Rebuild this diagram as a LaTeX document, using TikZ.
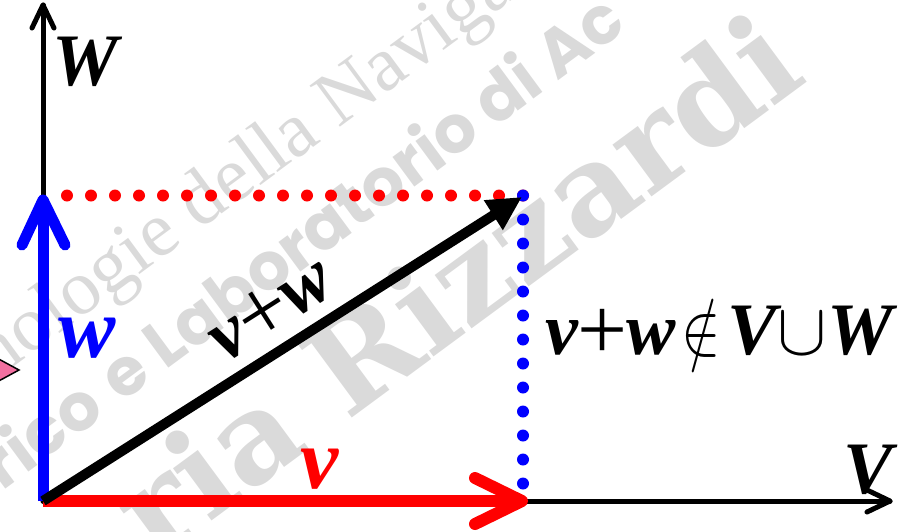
\RequirePackage{fix-cm}
\documentclass[tikz,border=0pt]{standalone}
\usepackage{graphicx}
\usepackage{fontspec}
\setmainfont{Liberation Serif}
\newfontfamily\wmsans{Poppins}
\newfontfamily\wmserif{Liberation Serif}
\newfontfamily\wmheavy{DejaVu Serif}
\newcommand{\plusglyph}{{\mdseries\upshape\raisebox{-0.07em}{\scalebox{1.2}{+}}}}
\usetikzlibrary{arrows.meta,calc}
\definecolor{wmgray}{RGB}{218,218,218}
\definecolor{pinkf}{RGB}{242,112,160}
\begin{document}
\begin{tikzpicture}[x=1pt,y=-1pt,
  lbl/.style={inner sep=0pt, font=\fontsize{74}{76}\selectfont\bfseries\itshape},
  wmtext/.style={inner sep=0pt, text=wmgray, rotate=36.4},
  axisline/.style={line width=5pt, black, line cap=round, line join=round},
  wvec/.style={line width=11pt, blue},
  vvec/.style={line width=12pt, red},
  svec/.style={line width=10pt, black, -{Triangle[length=34pt,width=33pt]}},
  barbw/.style={line width=11pt, blue, line cap=round, line join=round},
  barbv/.style={line width=12pt, red, line cap=round, line join=round},
  rdots/.style={red, line width=12pt, line cap=round, dash pattern=on 0pt off 24pt},
  bdots/.style={blue, line width=12pt, line cap=round, dash pattern=on 0pt off 24pt}]
\useasboundingbox (0,0) rectangle (903,531);
% watermark
\begin{scope}
\clip (0,0) rectangle (903,531);
\node[wmtext, anchor=base east, font=\wmserif\fontsize{78}{78}\selectfont] (wm1a) at (322,140.5) {nologie della};
\node[wmtext, anchor=base west, font=\wmserif\fontsize{78}{78}\selectfont] (wm1b) at (338,129) {Naviga};
\node[wmtext, anchor=base east, font=\wmsans\fontsize{66}{66}\selectfont\bfseries] (wm2a) at (107,414) {rico};
\node[wmtext, anchor=base west, font=\wmsans\fontsize{66}{66}\selectfont\bfseries] (wm2b) at (121.6,403.4) {e Laboratorio di Ac};
\node[wmtext, anchor=base east, font=\wmheavy\fontsize{125}{125}\selectfont\bfseries] (wm3) at (810,80) {ria Rizzardi};
\filldraw[fill=pinkf, draw=black, line width=1.5pt] (-5,357) -- (19,370) -- (-5,383) -- cycle;
\end{scope}
% coordinates
\coordinate (O) at (43,501);
\coordinate (Wtop) at (43,5);
\coordinate (Vend) at (890,501);
\coordinate (wtip) at (43,200);
\coordinate (vtip) at (522,501);
\coordinate (stip) at (522,197);
\coordinate (rstart) at (67,195.5);
\coordinate (corner) at (523,195.5);
\coordinate (bend) at (523,500);
% axes
\draw[axisline] (O) -- (Wtop);
\draw[axisline] ($(Wtop)+(-11,23)$) -- (Wtop) -- ($(Wtop)+(11,23)$);
\draw[axisline] (O) -- (Vend);
\draw[axisline] ($(Vend)+(-23,-11)$) -- (Vend) -- ($(Vend)+(-23,11)$);
% dotted
\draw[rdots] (rstart) -- (corner);
\draw[bdots] (corner) -- (bend);
% vectors
\draw[wvec] (O) -- (wtip);
\draw[barbw] ($(wtip)+(-21,45)$) -- (wtip) -- ($(wtip)+(22,45)$);
\draw[vvec] (O) -- ($(vtip)+(-5,0)$);
\draw[barbv] ($(vtip)+(-47,-23)$) -- (vtip) -- ($(vtip)+(-47,23)$);
\draw[svec] (O) -- (stip) node[pos=0.52, sloped, above=8pt, inner sep=0pt, font=\fontsize{76}{76}\selectfont\bfseries\itshape] (sl) {v\kern-1pt\plusglyph\kern-1pt w};
% labels
\node[lbl, anchor=base west] (Wl) at (52,85) {W};
\node[lbl, anchor=base west] (Vl) at (843,493) {V};
\node[lbl, anchor=base west, blue, font=\fontsize{86}{88}\selectfont\bfseries\itshape] (wl) at (58,357) {w};
\node[lbl, anchor=base west, red, font=\fontsize{86}{88}\selectfont\bfseries\itshape] (vl) at (300,488) {v};
\node[lbl, anchor=base west] (rel) at (545,354) {v\kern-1pt\plusglyph\kern-1pt w\kern6pt\scalebox{0.8}[1]{$\notin$}\kern7pt V$\cup$\kern1pt W};
\end{tikzpicture}
\end{document}
